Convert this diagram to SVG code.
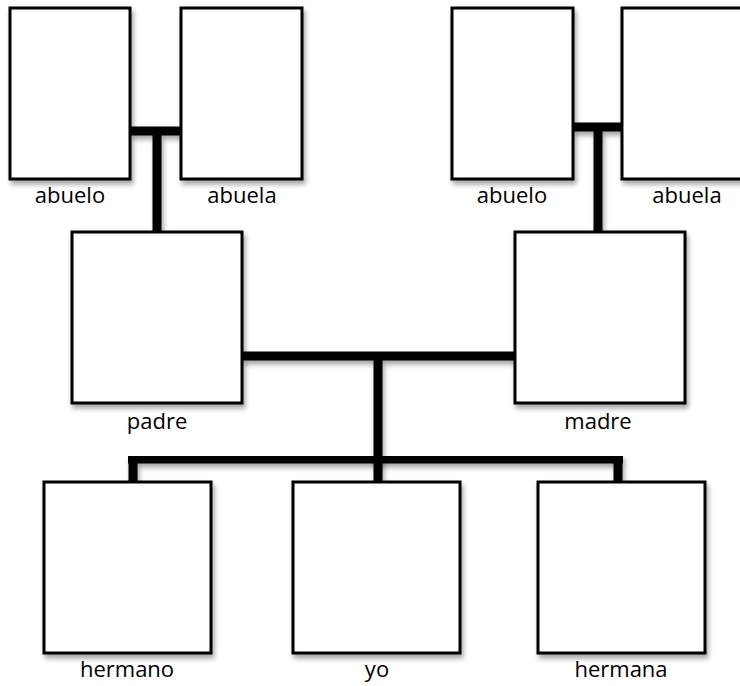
<svg xmlns="http://www.w3.org/2000/svg" width="740" height="686" viewBox="0 0 740 686">
<defs>
<filter id="sh" x="-10%" y="-10%" width="130%" height="130%">
<feDropShadow dx="2" dy="4" stdDeviation="2.5" flood-color="#000" flood-opacity="0.35"/>
</filter>
<style>
.box{fill:#fff;stroke:#000;stroke-width:3;filter:url(#sh)}
.ln{stroke:#000;stroke-width:9;fill:none;stroke-linecap:butt;filter:url(#sh)}
.lbl{font-family:"Open Sans","Liberation Sans",sans-serif;font-size:22px;fill:#000;text-anchor:middle}
</style>
</defs>
<rect width="740" height="686" fill="#fff"/>
<g id="connectors">
<path class="ln" d="M130 131 H181 M157 131 V232"/>
<path class="ln" d="M573 127 H622 M598 127 V232"/>
<path class="ln" d="M242 356 H515 M378 356 V482"/>
<path class="ln" d="M128 459 H623 M133 459 V482 M618 459 V482"/>
</g>
<g id="abuelo1"><rect class="box" x="10" y="8" width="120" height="171"/><text class="lbl" x="70" y="203">abuelo</text></g>
<g id="abuela1"><rect class="box" x="181" y="8" width="121" height="171"/><text class="lbl" x="242" y="203">abuela</text></g>
<g id="abuelo2"><rect class="box" x="452" y="8" width="121" height="171"/><text class="lbl" x="512" y="203">abuelo</text></g>
<g id="abuela2"><rect class="box" x="622" y="8" width="120" height="171"/><text class="lbl" x="687" y="203">abuela</text></g>
<g id="padre"><rect class="box" x="72" y="232" width="170" height="171"/><text class="lbl" x="157" y="429">padre</text></g>
<g id="madre"><rect class="box" x="515" y="232" width="170" height="171"/><text class="lbl" x="598" y="429">madre</text></g>
<g id="hermano"><rect class="box" x="44" y="482" width="167" height="171"/><text class="lbl" x="127" y="677">hermano</text></g>
<g id="yo"><rect class="box" x="293" y="482" width="167" height="171"/><text class="lbl" x="377" y="677">yo</text></g>
<g id="hermana"><rect class="box" x="538" y="482" width="167" height="171"/><text class="lbl" x="621" y="677">hermana</text></g>
</svg>
